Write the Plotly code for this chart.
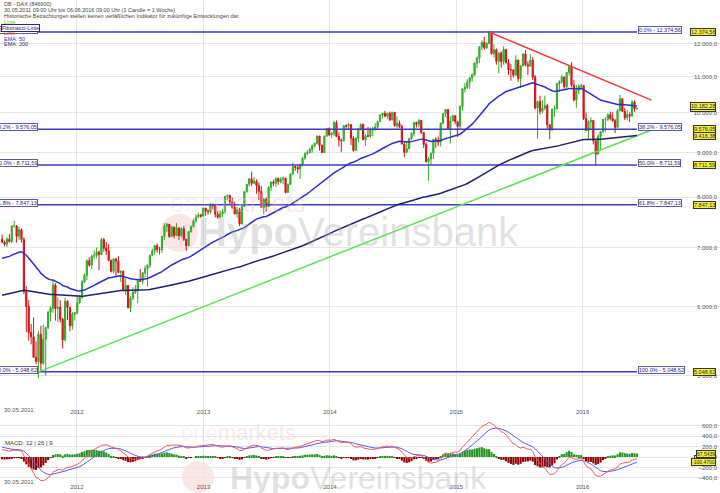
import math
import pandas as pd
import plotly.graph_objects as go

# ---------------- data (weekly DAX candles) ----------------
first_week = "2011-05-30"
first_open = 7164

closes = [
    # 2011
    7109, 7070, 7165, 7121, 7419, 7419, 7220, 7344, 7159, 6236, 5998, 5602, 5538, 5246, 5189, 5574,
    5164, 5502, 5675, 5910, 5971, 6346, 5966, 5985, 5800, 5493, 6080, 5986, 5702, 5878, 5898,
    # 2012
    6057, 6143, 6404, 6512, 6767, 6692, 6849, 6864, 6922, 6880, 7158, 6996, 6947, 6775, 6583, 6801,
    6762, 6561, 6579, 6271, 6339, 5978, 6131, 6229, 6263, 6416, 6410, 6557, 6630, 6689, 6865, 6945,
    7040, 6972, 6970, 7214, 7412, 7451, 7216, 7398, 7233, 7380, 7231, 7364, 7163, 7043, 7309, 7405,
    7518, 7597, 7636, 7612, 7776,
    # 2013
    7716, 7702, 7857, 7833, 7652, 7593, 7661, 7708, 8023, 8043, 7911, 7795, 7659, 7745, 7459, 7814,
    8122, 8278, 8399, 8305, 8349, 8255, 8127, 7789, 7959, 7806, 8212, 8331, 8303, 8410, 8338, 8391,
    8416, 8104, 8276, 8510, 8676, 8661, 8622, 8725, 8868, 8986, 9001, 9078, 9168, 9225, 9405, 9172,
    9006, 9400, 9589, 9435,
    # 2014
    9473, 9743, 9392, 9306, 9289, 9663, 9656, 9692, 9351, 9056, 9343, 9588, 9695, 9315, 9409, 9401,
    9556, 9581, 9629, 9768, 9943, 9987, 9912, 9987, 9815, 10009, 9666, 9720, 9644, 9210, 9010, 9092,
    9339, 9470, 9747, 9699, 9799, 9490, 9195, 8788, 8850, 8988, 9326, 9291, 9252, 9732, 9980, 10087,
    9594, 9787, 9922, 9765,
    # 2015
    9648, 10167, 10649, 10694, 10846, 10963, 11050, 11401, 11551, 11901, 12040, 11868, 12001, 12375,
    11689, 11811, 11454, 11709, 11447, 11815, 11414, 11197, 11197, 11041, 11492, 10945, 11316, 11673,
    11347, 11309, 11490, 10985, 10124, 10298, 10038, 10124, 10188, 9688, 9553, 10096, 10104, 10795,
    10850, 10988, 10708, 11120, 11293, 10752, 10340, 10608, 10728, 10743,
    # 2016
    9849, 9545, 9765, 9798, 9286, 8967, 9388, 9513, 9824, 9831, 9950, 9851, 9794, 9622, 10051, 10373,
    10039, 9870, 9952, 9916, 10287, 10103, 10115.80,
]

highs = [
    7250, 7140, 7200, 7260, 7425, 7523, 7430, 7400, 7370, 7200, 6330, 6100, 5730, 5830, 5470, 5620,
    5700, 5720, 5690, 5930, 6000, 6430, 6380, 6140, 6100, 5820, 6140, 6100, 5990, 5910, 5910,
    6180, 6180, 6430, 6550, 6790, 6830, 6880, 6960, 7010, 6950, 7190, 7190, 7110, 7070, 6790, 6810,
    6810, 6850, 6600, 6600, 6460, 6350, 6170, 6310, 6350, 6430, 6620, 6570, 6680, 6700, 6880, 6990,
    7060, 7080, 7020, 7230, 7470, 7480, 7460, 7420, 7400, 7480, 7390, 7390, 7420, 7170, 7320, 7430,
    7560, 7650, 7680, 7660, 7780,
    7780, 7750, 7880, 7870, 7840, 7720, 7730, 7760, 8030, 8060, 8050, 7990, 7900, 7800, 7780, 7830,
    8130, 8290, 8420, 8560, 8440, 8390, 8320, 8240, 7990, 8000, 8240, 8340, 8380, 8430, 8430, 8440,
    8450, 8420, 8300, 8520, 8770, 8700, 8700, 8740, 8900, 9000, 9060, 9120, 9200, 9240, 9420, 9410,
    9200, 9420, 9600, 9620,
    9500, 9790, 9800, 9490, 9340, 9670, 9700, 9730, 9620, 9400, 9380, 9600, 9720, 9720, 9450, 9630,
    9620, 9640, 9730, 9780, 9950, 10000, 10050, 10000, 10030, 10030, 10020, 9900, 9800, 9690, 9270, 9260,
    9370, 9500, 9760, 9770, 9840, 9810, 9510, 9250, 8900, 9000, 9330, 9370, 9390, 9740, 9990, 10093,
    10100, 9900, 9950, 9940,
    9790, 10200, 10660, 10810, 10920, 10990, 11100, 11420, 11600, 11920, 12100, 12220, 12050, 12390,
    12380, 11980, 11850, 11720, 11760, 11920, 11830, 11520, 11380, 11210, 11640, 11500, 11340, 11700,
    11800, 11450, 11670, 11580, 11050, 10330, 10460, 10330, 10460, 10240, 9700, 10110, 10200, 10820,
    10900, 11060, 10990, 11130, 11310, 11430, 10900, 10760, 10780, 10800,
    10750, 10010, 9800, 9880, 9810, 9300, 9450, 9520, 9840, 9880, 9990, 10030, 10010, 9840, 10100, 10480,
    10400, 10130, 10080, 10010, 10340, 10330, 10140,
]

lows = [
    7090, 7030, 7020, 7100, 7090, 7390, 7100, 7150, 7100, 6200, 5610, 5480, 5430, 5240, 5150, 4966,
    5050, 5140, 5000, 5650, 5770, 5900, 5780, 5760, 5750, 5370, 5470, 5790, 5620, 5640, 5780,
    5880, 6040, 6120, 6380, 6430, 6660, 6620, 6800, 6810, 6600, 6870, 6930, 6870, 6760, 6560, 6550,
    6480, 6550, 6400, 6260, 6180, 5970, 5910, 6100, 6200, 6050, 6400, 6360, 6480, 6320, 6640, 6860,
    6880, 6910, 6880, 6910, 7150, 7300, 7190, 7210, 7180, 7220, 7150, 7200, 7130, 6950, 7030, 7290,
    7390, 7480, 7580, 7580, 7600,
    7620, 7640, 7660, 7750, 7590, 7560, 7570, 7590, 7660, 7940, 7860, 7760, 7650, 7580, 7420, 7450,
    7800, 8100, 8230, 8240, 8280, 8080, 7940, 7780, 7650, 7700, 7800, 8130, 8240, 8220, 8270, 8300,
    8280, 8080, 8090, 8270, 8480, 8580, 8520, 8400, 8680, 8830, 8940, 8980, 9000, 9130, 9200, 9050,
    8990, 8990, 9390, 9400,
    9350, 9410, 9380, 9150, 9010, 9270, 9560, 9580, 9180, 9020, 9040, 9250, 9540, 9300, 9170, 9380,
    9360, 9400, 9540, 9550, 9760, 9850, 9880, 9840, 9780, 9800, 9640, 9600, 9600, 9200, 8900, 8990,
    9090, 9300, 9400, 9620, 9620, 9450, 9110, 8770, 8355, 8710, 8850, 9120, 9160, 9150, 9700, 9890,
    9590, 9220, 9780, 9700,
    9380, 9560, 10050, 10550, 10650, 10650, 10850, 11020, 11250, 11400, 11800, 11800, 11830, 11990,
    11650, 11570, 11350, 11090, 11270, 11350, 11380, 11050, 10880, 10970, 11040, 10850, 10670, 11310,
    11300, 11040, 11300, 10900, 10090, 9338, 9950, 9980, 10060, 9590, 9325, 9540, 9900, 10080,
    10560, 10800, 10650, 10650, 11030, 10700, 10300, 10130, 10500, 10650,
    9810, 9530, 9310, 9580, 9200, 8699, 8950, 9070, 9490, 9500, 9780, 9800, 9760, 9480, 9600, 10050,
    10020, 9810, 9800, 9760, 9900, 10030, 10090,
]

# weekly open = previous week's close
opens = [first_open] + closes[:-1]
weeks = pd.date_range(first_week, periods=len(closes), freq="W-MON")

# Fibonacci retracement between the 2011 low and the 2015 high
fib_high = 12374.56
fib_low = 5048.62
fib_low_date = "2011-09-12"
fib_ratios = [0.0, 0.382, 0.5, 0.618, 1.0]
fib_names = ["0.0%", "38.2%", "50.0%", "61.8%", "100.0%"]

# trend lines
green_trend_dates = ["2011-09-12", "2016-07-25"]
green_trend_values = [5048.62, 9580.0]
red_trend_dates = ["2015-04-06", "2016-07-18"]
red_trend_values = [12374.56, 10340.0]

# indicators (seeded with the values read at the left edge)
ema_periods = [50, 200]
ema_seeds = [6800.0, 6170.0]
macd_periods = (12, 26, 9)
macd_seeds = (7150.0, 6990.0, 200.0)

year_ticks = ["2012-01-01", "2013-01-01", "2014-01-01", "2015-01-01", "2016-01-01", "2017-01-01"]
year_labels = ["2012", "2013", "2014", "2015", "2016", "2017"]
price_ticks = [5000, 6000, 7000, 8000, 9000, 10000, 11000, 12000]
macd_ticks = [-400, -200, 0, 200, 400, 600]

x_range = ["2011-05-24", "2017-02-01"]
price_range = [4470, 13464]
macd_range = [-692, 750]

# ---------------- helpers ----------------
def ema(values, n, seed):
    a = 2.0 / (n + 1)
    e = seed
    out = []
    for v in values:
        e = e + a * (v - e)
        out.append(e)
    return out


def de(v, d=2):
    s = f"{v:,.{d}f}"
    return s.replace(",", "X").replace(".", ",").replace("X", ".")


ema50 = ema(closes, ema_periods[0], ema_seeds[0])
ema200 = ema(closes, ema_periods[1], ema_seeds[1])
e12 = ema(closes, macd_periods[0], macd_seeds[0])
e26 = ema(closes, macd_periods[1], macd_seeds[1])
macd = [a - b for a, b in zip(e12, e26)]
signal = ema(macd, macd_periods[2], macd_seeds[2])
hist = [m - s for m, s in zip(macd, signal)]
fib_levels = [fib_high - r * (fib_high - fib_low) for r in fib_ratios]

FONT = "Liberation Sans, Arial, sans-serif"
W, H = 720, 493
main_bottom_px = 418

fig = go.Figure()

# fib lines
for lvl in fib_levels:
    fig.add_trace(go.Scatter(x=[x_range[0], weeks[-1]], y=[lvl, lvl], mode="lines",
                             line=dict(color="rgb(60,60,190)", width=1.5), hoverinfo="skip",
                             xaxis="x", yaxis="y"))

# trend lines
fig.add_trace(go.Scatter(x=green_trend_dates, y=green_trend_values, mode="lines",
                         line=dict(color="rgb(90,225,80)", width=1.5), xaxis="x", yaxis="y"))
fig.add_trace(go.Scatter(x=red_trend_dates, y=red_trend_values, mode="lines",
                         line=dict(color="rgb(240,60,60)", width=1.5), xaxis="x", yaxis="y"))

# EMAs
fig.add_trace(go.Scatter(x=weeks, y=ema200, mode="lines",
                         line=dict(color="rgb(30,30,110)", width=1.5), xaxis="x", yaxis="y"))
fig.add_trace(go.Scatter(x=weeks, y=ema50, mode="lines",
                         line=dict(color="rgb(45,45,200)", width=1.5), xaxis="x", yaxis="y"))

# candles
fig.add_trace(go.Candlestick(
    x=weeks, open=opens, high=highs, low=lows, close=closes,
    increasing=dict(line=dict(color="rgb(50,170,40)", width=1), fillcolor="rgb(60,190,50)"),
    decreasing=dict(line=dict(color="rgb(210,20,20)", width=1), fillcolor="rgb(225,25,25)"),
    whiskerwidth=0, xaxis="x", yaxis="y"))

# MACD
fig.add_trace(go.Bar(x=weeks, y=hist,
                     marker=dict(color=["rgb(30,150,30)" if h >= 0 else "rgb(140,0,0)" for h in hist],
                                 line=dict(width=0)),
                     xaxis="x2", yaxis="y2"))
fig.add_trace(go.Scatter(x=weeks, y=signal, mode="lines", line=dict(color="rgb(90,90,230)", width=1),
                         xaxis="x2", yaxis="y2"))
fig.add_trace(go.Scatter(x=weeks, y=macd, mode="lines", line=dict(color="rgb(235,90,90)", width=1),
                         xaxis="x2", yaxis="y2"))

ann = []
small = dict(family=FONT, size=6, color="#555")

# header texts
for i, t in enumerate(["DB - DAX (846900)",
                       "30.05.2011 09:00 Uhr bis 06.06.2016 09:00 Uhr (1 Candle = 1 Woche)",
                       "Historische Betrachtungen stellen keinen verläßlichen Indikator für zukünftige Entwicklungen dar."]):
    ann.append(dict(xref="paper", yref="paper", x=2 / W, y=1 - (4 + 6 * i) / H, xanchor="left", yanchor="middle",
                    text=t, showarrow=False, font=dict(family=FONT, size=5.5, color="#444")))

# fib labels (left, clipped at edge, and right)
for name, lvl in zip(fib_names, fib_levels):
    txt = f"{name} - {de(lvl)}"
    for xa, xs in (("right", 0), ("left", 1)):
        ann.append(dict(xref="x", yref="y",
                        x=fib_low_date if xa == "right" else weeks[-1],
                        y=math.log10(lvl), xanchor=xa, yanchor="middle", yshift=2, xshift=xs,
                        text=txt, showarrow=False, bgcolor="white", bordercolor="rgb(90,90,160)",
                        borderwidth=1, borderpad=0, font=dict(family=FONT, size=5.5, color="rgb(30,30,110)")))

# legend texts
legend_items = [("Linie", "rgb(60,200,60)", 22), ("Linie", "rgb(230,50,50)", 33),
                ("EMA: 50", "rgb(45,45,200)", 39), ("EMA: 200", "rgb(30,30,110)", 44)]
for t, c, ypx in legend_items:
    ann.append(dict(xref="paper", yref="paper", x=2 / W, y=1 - ypx / H, xanchor="left", yanchor="middle",
                    text=t, showarrow=False, font=dict(family=FONT, size=5.5, color=c)))
ann.append(dict(xref="paper", yref="paper", x=1 / W, y=1 - 27.5 / H, xanchor="left", yanchor="middle",
                text="Fibonacci-Linie", showarrow=False, bgcolor="white", bordercolor="rgb(40,40,120)",
                borderwidth=1, borderpad=0, font=dict(family=FONT, size=5.5, color="rgb(30,30,110)")))

# yellow price tags
tags = [fib_levels[0], closes[-1], ema50[-1], fib_levels[1], ema200[-1], fib_levels[2], fib_levels[3], fib_levels[4]]
for v in tags:
    ann.append(dict(xref="paper", yref="y", x=716 / W, y=math.log10(v), xanchor="right", yanchor="middle",
                    text=de(v), showarrow=False, bgcolor="rgb(245,240,60)", bordercolor="#333",
                    borderwidth=1, borderpad=0, font=dict(family=FONT, size=5.5, color="#222")))
for v in (macd[-1], signal[-1], hist[-1]):
    ann.append(dict(xref="paper", yref="y2", x=716 / W, y=v, xanchor="right", yanchor="middle",
                    text=de(v, 4), showarrow=False, bgcolor="rgb(245,240,60)", bordercolor="#333",
                    borderwidth=1, borderpad=0, font=dict(family=FONT, size=5, color="#222")))

# start date labels and MACD label
ann.append(dict(xref="paper", yref="paper", x=2 / W, y=1 - 410 / H, xanchor="left", yanchor="middle",
                text="30.05.2011", showarrow=False, font=small))
ann.append(dict(xref="paper", yref="paper", x=2 / W, y=1 - 482 / H, xanchor="left", yanchor="middle",
                text="30.05.2011", showarrow=False, font=small))
ann.append(dict(xref="paper", yref="paper", x=3 / W, y=1 - 443 / H, xanchor="left", yanchor="middle",
                text="MACD: 12 | 26 | 9", showarrow=False, font=dict(family=FONT, size=6, color="#333")))

# watermarks
ann.append(dict(xref="paper", yref="paper", x=238 / W, y=1 - 203 / H, xanchor="center", yanchor="middle",
                text="<span style='color:rgba(235,150,150,0.35)'>one</span>markets", showarrow=False,
                font=dict(family=FONT, size=26, color="rgba(235,190,190,0.35)")))
ann.append(dict(xref="paper", yref="paper", x=358 / W, y=1 - 232 / H, xanchor="center", yanchor="middle",
                text="<b>Hypo</b>Vereinsbank", showarrow=False,
                font=dict(family=FONT, size=40, color="rgba(170,170,170,0.35)")))
ann.append(dict(xref="paper", yref="paper", x=238 / W, y=1 - 432 / H, xanchor="center", yanchor="middle",
                text="<span style='color:rgba(235,150,150,0.35)'>one</span>markets", showarrow=False,
                font=dict(family=FONT, size=22, color="rgba(235,190,190,0.35)")))
ann.append(dict(xref="paper", yref="paper", x=358 / W, y=1 - 478 / H, xanchor="center", yanchor="middle",
                text="<b>Hypo</b>Vereinsbank", showarrow=False,
                font=dict(family=FONT, size=32, color="rgba(170,170,170,0.35)")))

shapes = [
    dict(type="circle", xref="paper", yref="paper", layer="below",
         x0=160 / W, x1=198 / W, y0=1 - 252 / H, y1=1 - 214 / H,
         fillcolor="rgba(235,140,140,0.22)", line=dict(width=0)),
    dict(type="circle", xref="paper", yref="paper", layer="below",
         x0=182 / W, x1=214 / W, y0=1 - 493 / H, y1=1 - 461 / H,
         fillcolor="rgba(235,140,140,0.22)", line=dict(width=0)),
]

axis_common = dict(showline=False, zeroline=False, gridcolor="#e6e6e6", gridwidth=1,
                   tickfont=dict(family=FONT, size=6, color="#555"), ticks="")

fig.update_layout(
    width=W, height=H, margin=dict(l=0, r=0, t=0, b=0),
    paper_bgcolor="white", plot_bgcolor="white", showlegend=False,
    separators=",.", bargap=0.15,
    xaxis=dict(domain=[0, 1], anchor="y", type="date", range=x_range, tickvals=year_ticks,
               ticktext=year_labels, ticklabelposition="inside", rangeslider=dict(visible=False),
               showgrid=True, **axis_common),
    xaxis2=dict(domain=[0, 1], anchor="y2", type="date", range=x_range, tickvals=year_ticks,
                ticktext=year_labels, ticklabelposition="inside", matches="x", showgrid=True,
                **axis_common),
    yaxis=dict(domain=[1 - main_bottom_px / H, 1], anchor="x", type="log",
               range=[math.log10(price_range[0]), math.log10(price_range[1])],
               side="right", tickvals=price_ticks, tickformat=",.1f", ticklabelposition="inside",
               showgrid=True, **axis_common),
    yaxis2=dict(domain=[0, 1 - main_bottom_px / H], anchor="x2", range=macd_range, side="right",
                tickvals=macd_ticks, tickformat=",.1f", ticklabelposition="inside", showgrid=True,
                **axis_common),
    annotations=ann, shapes=shapes,
)

fig.write_html("out.html", config={"displayModeBar": False},
               post_script="document.body.style.margin='0';document.body.style.overflow='hidden';")
